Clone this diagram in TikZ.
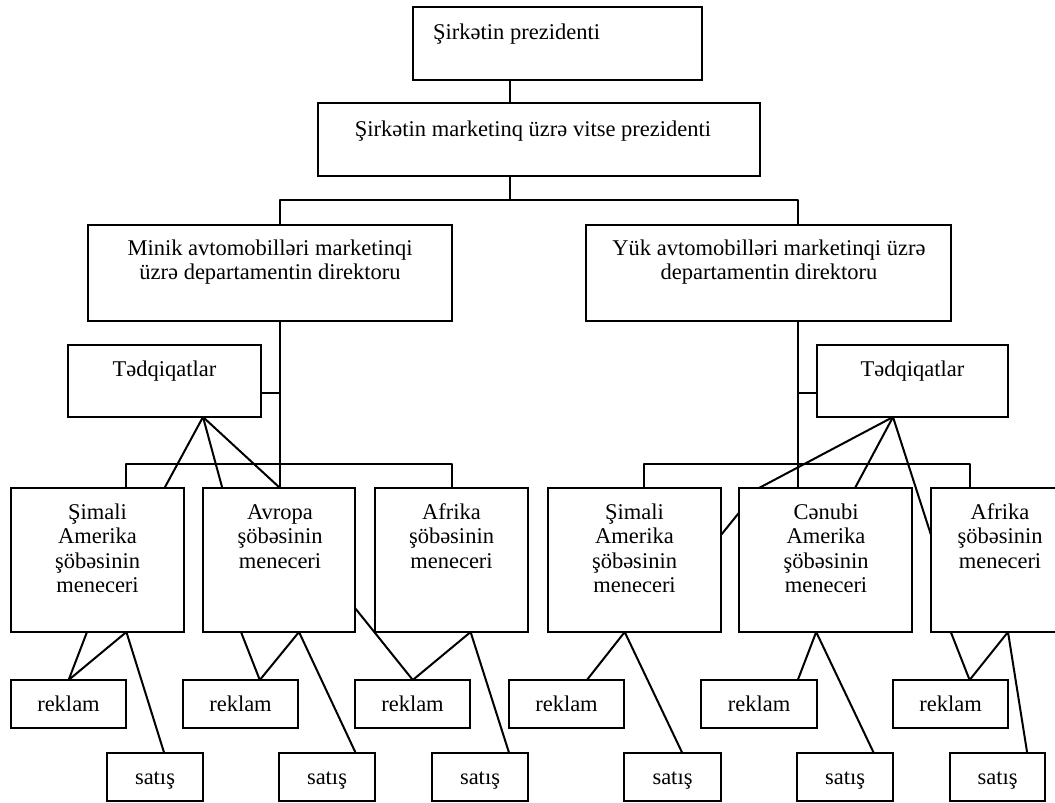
\documentclass[tikz,border=0pt]{standalone}
\usepackage{fontspec}
\setmainfont{Liberation Serif}
\usetikzlibrary{backgrounds}
% \orgbox{name}{left}{top}{right}{bottom}: an empty framed box, white inside
\newcommand\orgbox[5]{%
  \node[box, minimum width={(#4)-(#2)}, minimum height={(#5)-(#3)}] (#1) at (#2,#3) {};}
\begin{document}
\begin{tikzpicture}[x=1pt,y=-1pt,
  box/.style={draw=black, fill=white, rectangle, line width=2pt,
              inner sep=0pt, outer sep=0pt, anchor=north west},
  lbl/.style={font=\fontsize{22.5}{24.5}\selectfont, inner sep=0pt,
              align=center, anchor=north},
  link/.style={draw=black, line width=2pt, line join=round}
]
\useasboundingbox (0,0) rectangle (1055,803);
\clip (0,0) rectangle (1055,803);

% ---- boxes ----
\orgbox{pres}{413}{7}{702}{80}
\orgbox{vice}{318}{103}{760}{176}
\orgbox{minik}{88}{225}{452}{321}
\orgbox{yuk}{586}{225}{951}{321}
\orgbox{tedL}{68}{345}{261}{417}
\orgbox{tedR}{817}{345}{1008}{417}
\orgbox{simL}{11}{488}{184}{632}
\orgbox{avr}{203}{488}{355}{632}
\orgbox{afrL}{375}{488}{528}{632}
\orgbox{simR}{548}{488}{721}{632}
\orgbox{cen}{739}{488}{912}{632}
\orgbox{afrR}{931}{488}{1069}{632}
\orgbox{rekL1}{11}{680}{126}{728}
\orgbox{rekL2}{183}{680}{298}{728}
\orgbox{rekL3}{355}{680}{470}{728}
\orgbox{rekR1}{509}{680}{624}{728}
\orgbox{rekR2}{701}{680}{817}{728}
\orgbox{rekR3}{893}{680}{1008}{728}
\orgbox{satL1}{107}{753}{203}{801}
\orgbox{satL2}{279}{753}{375}{801}
\orgbox{satL3}{432}{753}{528}{801}
\orgbox{satR1}{624}{753}{721}{801}
\orgbox{satR2}{797}{753}{893}{801}
\orgbox{satR3}{950}{753}{1045}{801}

% ---- texts ----
\node[lbl, anchor=north west] (tPres) at (433,21.85) {\strut Şirkətin prezidenti};
\node[lbl] (tVice) at (533,118.85) {\strut Şirkətin marketinq üzrə vitse prezidenti};
\node[lbl] (tMinik) at (270,237.85) {\strut Minik avtomobilləri marketinqi\\üzrə departamentin direktoru};
\node[lbl] (tYuk) at (769,237.85) {\strut Yük avtomobilləri marketinqi üzrə\\departamentin direktoru};
\node[lbl] (tTedL) at (164.5,358.85) {\strut Tədqiqatlar};
\node[lbl] (tTedR) at (912.5,358.85) {\strut Tədqiqatlar};
\node[lbl] (tSimL) at (97.5,501.85) {\strut Şimali\\Amerika\\şöbəsinin\\meneceri};
\node[lbl] (tAvr) at (280,501.85) {\strut Avropa\\şöbəsinin\\meneceri};
\node[lbl] (tAfrL) at (451.5,501.85) {\strut Afrika\\şöbəsinin\\meneceri};
\node[lbl] (tSimR) at (634.5,501.85) {\strut Şimali\\Amerika\\şöbəsinin\\meneceri};
\node[lbl] (tCen) at (826,501.85) {\strut Cənubi\\Amerika\\şöbəsinin\\meneceri};
\node[lbl] (tAfrR) at (1000,501.85) {\strut Afrika\\şöbəsinin\\meneceri};
\node[lbl] (tRekL1) at (68.5,693.85) {\strut reklam};
\node[lbl] (tRekL2) at (240.5,693.85) {\strut reklam};
\node[lbl] (tRekL3) at (412.5,693.85) {\strut reklam};
\node[lbl] (tRekR1) at (566.5,693.85) {\strut reklam};
\node[lbl] (tRekR2) at (759,693.85) {\strut reklam};
\node[lbl] (tRekR3) at (950.5,693.85) {\strut reklam};
\node[lbl] (tSatL1) at (155,766.85) {\strut satış};
\node[lbl] (tSatL2) at (327,766.85) {\strut satış};
\node[lbl] (tSatL3) at (480,766.85) {\strut satış};
\node[lbl] (tSatR1) at (672.5,766.85) {\strut satış};
\node[lbl] (tSatR2) at (845,766.85) {\strut satış};
\node[lbl] (tSatR3) at (997.5,766.85) {\strut satış};

% ---- connectors, kept beneath the boxes ----
\begin{pgfonlayer}{background}
  \coordinate (hubTop) at (510,200);
  \coordinate (stemL) at ([xshift=192pt]minik.south west);
  \coordinate (stemR) at ([xshift=212pt]yuk.south west);
  \coordinate (busL) at (280,464);
  \coordinate (busR) at (798,464);

  \draw[link] ([xshift=97pt]pres.south west) -- ([xshift=192pt]vice.north west);
  \draw[link] ([xshift=192pt]vice.south west) -- (hubTop);
  \draw[link] ([xshift=192pt]minik.north west) |- (hubTop) -| ([xshift=212pt]yuk.north west);
  \draw[link] (stemL) -- ([xshift=77pt]avr.north west);
  \draw[link] (stemR) -- ([xshift=59pt]cen.north west);
  \draw[link] ([yshift=24pt]tedL.south east) coordinate (tedLj) -- (tedLj -| stemL);
  \draw[link] ([yshift=24pt]tedR.south west) coordinate (tedRj) -- (tedRj -| stemR);
  \draw[link] ([xshift=115pt]simL.north west) |- (busL) -| ([xshift=77pt]afrL.north west);
  \draw[link] ([xshift=96pt]simR.north west) |- (busR) -| ([xshift=39pt]afrR.north west);

  % research links
  \coordinate (fanL) at ([xshift=135pt]tedL.south west);
  \draw[link] (fanL) -- ([xshift=153.5pt]simL.north west);
  \draw[link] (fanL) -- ([xshift=19.3pt]avr.north west);
  \draw[link] (fanL) -- ([xshift=77pt]avr.north west);
  \coordinate (fanR) at ([xshift=76pt]tedR.south west);
  \draw[link] (fanR) -- ([xshift=20pt]cen.north west) -- ([yshift=-47pt]simR.north east);
  \draw[link] (fanR) -- ([xshift=116pt]cen.north west);
  \draw[link] (fanR) -- ([yshift=-47pt]afrR.north west);

  % advertising and sales links
  \draw[link] ([xshift=76pt]simL.south west) -- ([xshift=57.6pt]rekL1.north west)
              -- ([xshift=115.4pt]simL.south west) -- ([xshift=57.2pt]satL1.north west);
  \draw[link] ([xshift=38pt]avr.south west) -- ([xshift=76.8pt]rekL2.north west)
              -- ([xshift=96pt]avr.south west) -- ([xshift=76.7pt]satL2.north west);
  \draw[link] ([yshift=24pt]avr.south east) -- ([xshift=57.8pt]rekL3.north west)
              -- ([xshift=95.6pt]afrL.south west) -- ([xshift=77.1pt]satL3.north west);
  \draw[link] ([xshift=77.9pt]rekR1.north west) -- ([xshift=76.7pt]simR.south west)
              -- ([xshift=58.3pt]satR1.north west);
  \draw[link] ([xshift=96.8pt]rekR2.north west) -- ([xshift=77.2pt]cen.south west)
              -- ([xshift=76.8pt]satR2.north west);
  \draw[link] ([xshift=19.8pt]afrR.south west) -- ([xshift=76.6pt]rekR3.north west)
              -- ([xshift=77pt]afrR.south west) -- ([xshift=77.2pt]satR3.north west);
\end{pgfonlayer}
\end{tikzpicture}
\end{document}
